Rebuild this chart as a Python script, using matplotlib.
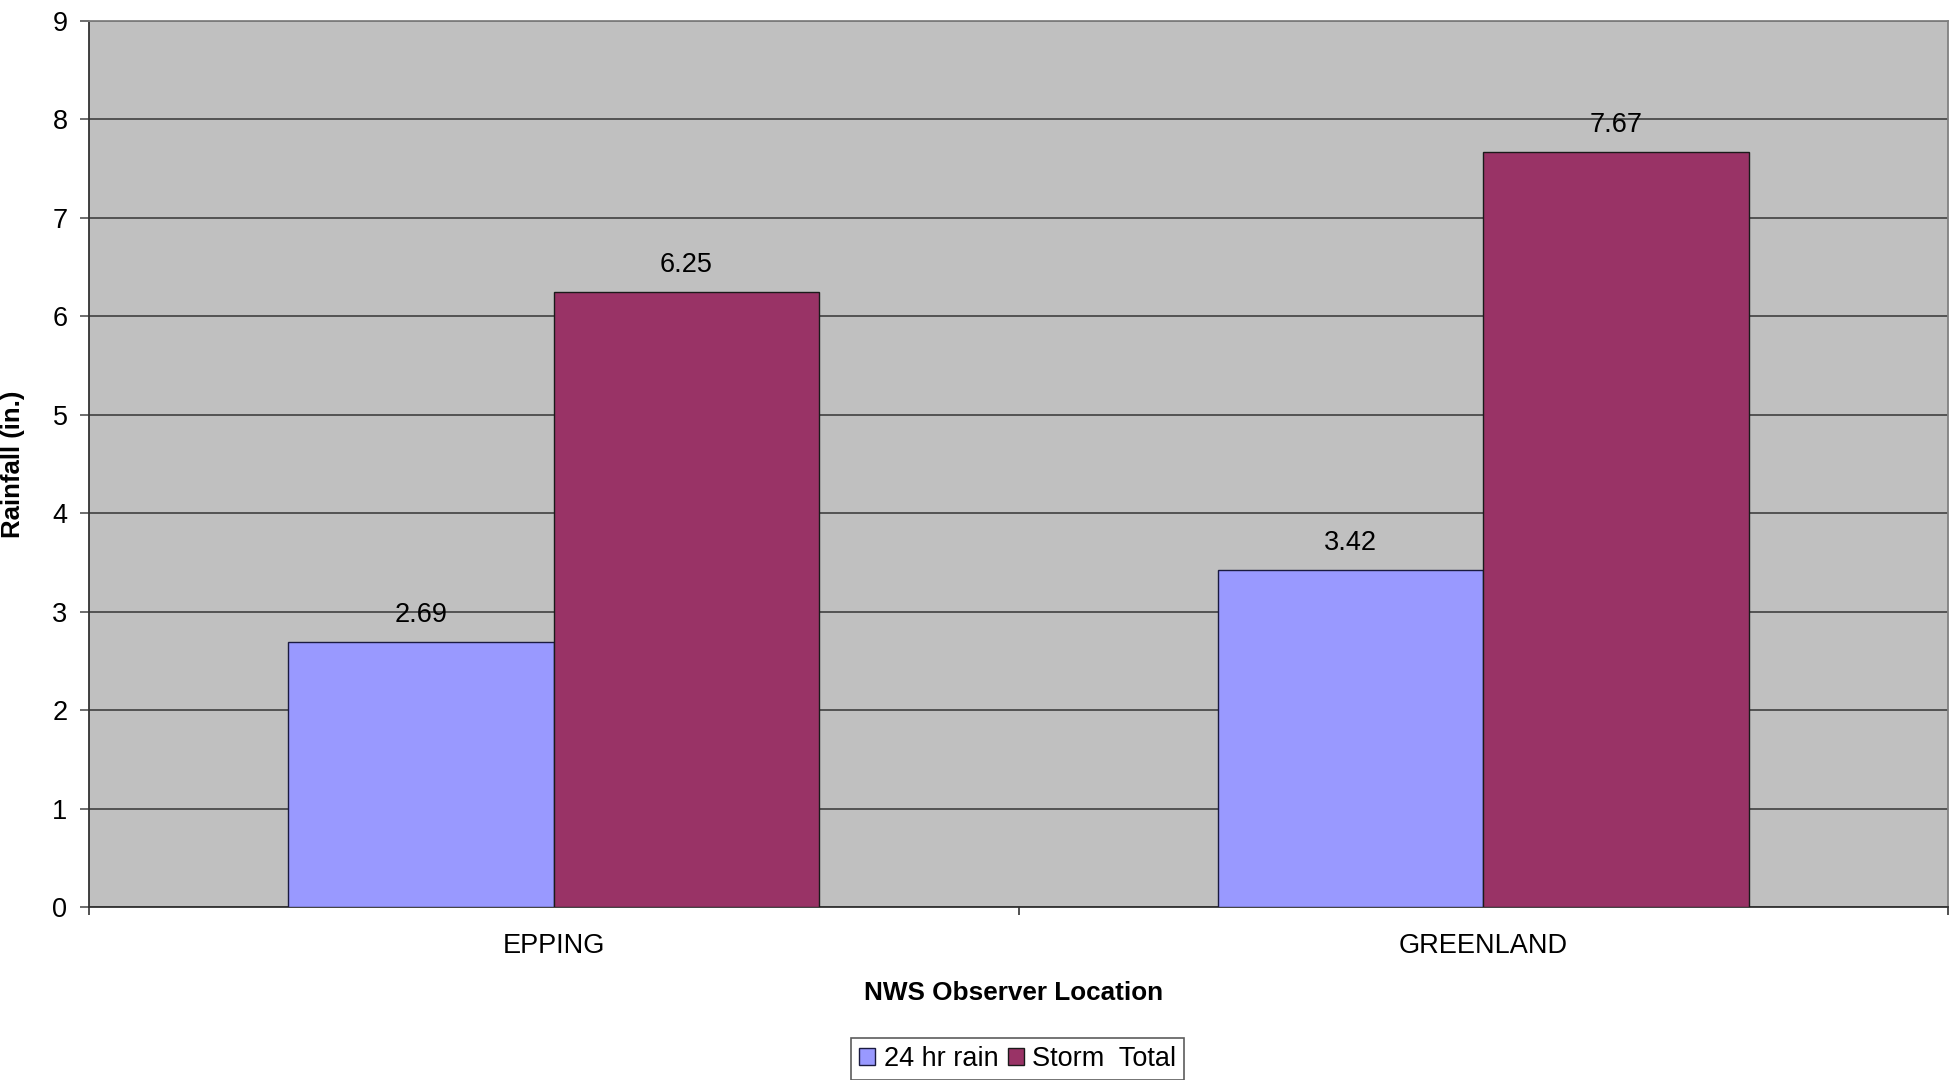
import matplotlib.pyplot as plt
import numpy as np

plt.rcParams['font.family'] = ['Liberation Sans', 'DejaVu Sans']

locations = ["EPPING", "GREENLAND"]
rain_24hr = [2.69, 3.42]
storm_total = [6.25, 7.67]
series_names = ["24 hr rain", "Storm  Total"]
y_ticks = [0, 1, 2, 3, 4, 5, 6, 7, 8, 9]

fig = plt.figure(figsize=(19.56, 10.8), dpi=100)
ax = fig.add_axes([89 / 1956, 173 / 1080, 1859 / 1956, 886 / 1080])
ax.set_facecolor("#C0C0C0")

x = np.arange(len(locations))
w = 1 / 3.5  # gap width 150%
b1 = ax.bar(x - w / 2, rain_24hr, w, color="#9999FF", edgecolor="#1a1a40",
            linewidth=1.0, label=series_names[0], zorder=3)
b2 = ax.bar(x + w / 2, storm_total, w, color="#993366", edgecolor="#1a1a1a",
            linewidth=1.0, label=series_names[1], zorder=3)

# value labels above each bar
for bars, vals in ((b1, rain_24hr), (b2, storm_total)):
    for r, v in zip(bars, vals):
        ax.annotate(f"{v:.2f}", (r.get_x() + r.get_width() / 2, v),
                    xytext=(0, 14.5), textcoords="offset points",
                    ha="center", va="baseline", fontsize=19.5, zorder=4)

ax.set_xlim(-0.5, len(locations) - 0.5)
ax.set_ylim(0, 9)
ax.set_yticks(y_ticks)
ax.yaxis.grid(True, color="#4a4a4a", linewidth=1.3, zorder=1)
ax.set_axisbelow(True)

ax.set_xticks(x)
ax.set_xticklabels(locations)
ax.set_xticks(np.arange(-0.5, len(locations), 1.0), minor=True)
ax.tick_params(axis="x", which="major", length=0, pad=19, labelsize=19.5)
ax.tick_params(axis="x", which="minor", length=6, width=1.2, direction="out",
               color="#333333")
ax.tick_params(axis="y", length=6.5, width=1.2, direction="out", pad=9,
               labelsize=19.5, color="#555555")

for side in ("left", "bottom"):
    ax.spines[side].set_color("#333333")
    ax.spines[side].set_linewidth(1.3)
for side in ("top", "right"):
    ax.spines[side].set_color("#808080")
    ax.spines[side].set_linewidth(1.3)

ax.set_ylabel("Rainfall (in.)", fontsize=18.5, fontweight="bold")
ax.yaxis.set_label_coords(-64 / 1859, 0.5)
ax.set_xlabel("NWS Observer Location", fontsize=18.8, fontweight="bold")
ax.xaxis.set_label_coords(0.5 - 5 / 1859, -86 / 886)
ax.xaxis.label.set_va("center")

leg = fig.legend(handles=[b1, b2], loc="upper left", ncol=2,
                 bbox_to_anchor=(851 / 1956, 1 - 1038 / 1080),
                 borderaxespad=0, fontsize=19.5, frameon=True, fancybox=False,
                 handlelength=0.6, handleheight=0.6, handletextpad=0.3,
                 columnspacing=0.35, borderpad=0.3)
leg.get_frame().set_edgecolor("#333333")
leg.get_frame().set_linewidth(1.2)

fig.savefig("out.png", dpi=100)
